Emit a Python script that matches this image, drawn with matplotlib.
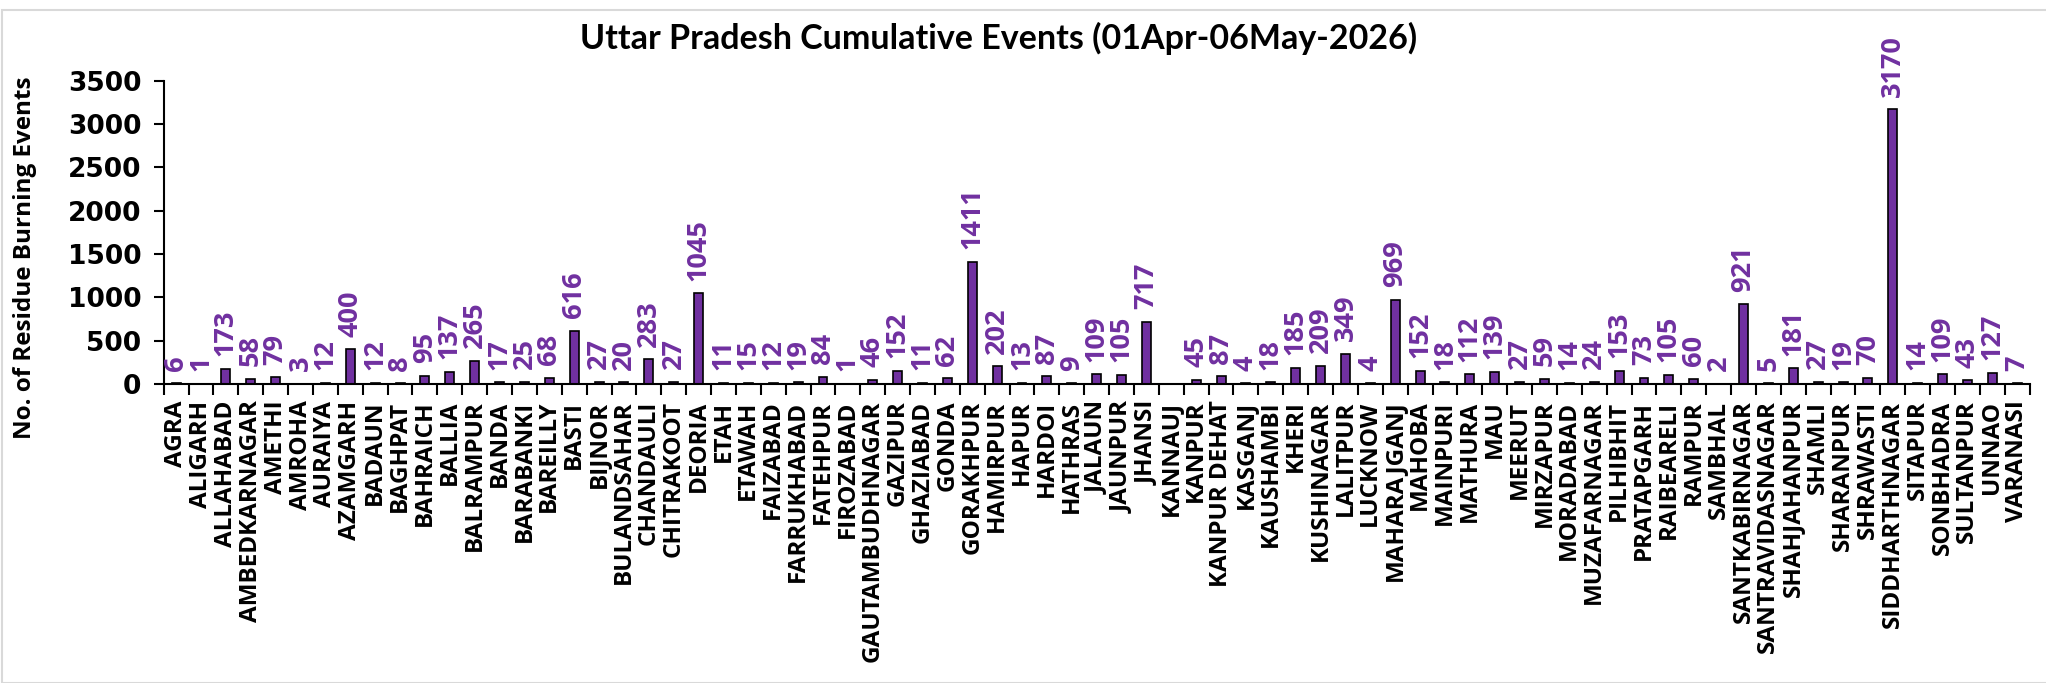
import numpy as np
import matplotlib
matplotlib.use('Agg')
import matplotlib.pyplot as plt
from matplotlib.patches import Rectangle

districts = ['AGRA', 'ALIGARH', 'ALLAHABAD', 'AMBEDKARNAGAR', 'AMETHI', 'AMROHA', 'AURAIYA',
             'AZAMGARH', 'BADAUN', 'BAGHPAT', 'BAHRAICH', 'BALLIA', 'BALRAMPUR', 'BANDA',
             'BARABANKI', 'BAREILLY', 'BASTI', 'BIJNOR', 'BULANDSAHAR', 'CHANDAULI',
             'CHITRAKOOT', 'DEORIA', 'ETAH', 'ETAWAH', 'FAIZABAD', 'FARRUKHABAD', 'FATEHPUR',
             'FIROZABAD', 'GAUTAMBUDHNAGAR', 'GAZIPUR', 'GHAZIABAD', 'GONDA', 'GORAKHPUR',
             'HAMIRPUR', 'HAPUR', 'HARDOI', 'HATHRAS', 'JALAUN', 'JAUNPUR', 'JHANSI', 'KANNAUJ',
             'KANPUR', 'KANPUR DEHAT', 'KASGANJ', 'KAUSHAMBI', 'KHERI', 'KUSHINAGAR', 'LALITPUR',
             'LUCKNOW', 'MAHARAJGANJ', 'MAHOBA', 'MAINPURI', 'MATHURA', 'MAU', 'MEERUT',
             'MIRZAPUR', 'MORADABAD', 'MUZAFARNAGAR', 'PILHIBHIT', 'PRATAPGARH', 'RAIBEARELI',
             'RAMPUR', 'SAMBHAL', 'SANTKABIRNAGAR', 'SANTRAVIDASNAGAR', 'SHAHJAHANPUR', 'SHAMLI',
             'SHARANPUR', 'SHRAWASTI', 'SIDDHARTHNAGAR', 'SITAPUR', 'SONBHADRA', 'SULTANPUR',
             'UNNAO', 'VARANASI']

# KANNAUJ has no value in the source
events = [6, 1, 173, 58, 79, 3, 12, 400, 12, 8, 95, 137, 265, 17, 25, 68, 616, 27, 20, 283,
          27, 1045, 11, 15, 12, 19, 84, 1, 46, 152, 11, 62, 1411, 202, 13, 87, 9, 109, 105, 717,
          None, 45, 87, 4, 18, 185, 209, 349, 4, 969, 152, 18, 112, 139, 27, 59, 14, 24, 153,
          73, 105, 60, 2, 921, 5, 181, 27, 19, 70, 3170, 14, 109, 43, 127, 7]

purple = '#7030A0'

fig = plt.figure(figsize=(20.46, 6.83), dpi=100)
fig.patches.append(Rectangle((0.001, 0.0), 1.2, 0.985, transform=fig.transFigure,
                             fill=False, edgecolor='#d9d9d9', linewidth=1.5))
ax = fig.add_axes([0.080, 0.438, 0.912, 0.4436])

x = np.arange(len(districts))
vals = np.array([np.nan if v is None else v for v in events], dtype=float)
ax.bar(x, np.nan_to_num(vals), width=0.36, color=purple, edgecolor='black', linewidth=1.2)

for xi, v in zip(x, events):
    if v is None:
        continue
    ax.annotate(str(v), (xi, v), xytext=(0, 9), textcoords='offset points',
                rotation=90, ha='center', va='bottom', color=purple,
                fontsize=19.5, fontweight='bold', family='Open Sans')

ax.set_xlim(-0.5, len(districts) - 0.5)
ax.set_ylim(0, 3500)
ax.set_yticks(np.arange(0, 3501, 500))
ax.set_xticks(x)
ax.set_xticklabels(districts, rotation=90, fontsize=17.5, fontweight='bold', family='Open Sans')
ax.set_xticks(np.arange(-0.5, len(districts), 1), minor=True)
ax.tick_params(axis='x', which='major', length=0, pad=12)
ax.tick_params(axis='x', which='minor', length=8, width=1.5, direction='out')
ax.tick_params(axis='y', length=7, width=1.5, direction='out', pad=9)
for lab in ax.get_yticklabels():
    lab.set_fontsize(19)
    lab.set_fontweight('bold')
    lab.set_family('DejaVu Sans')

for s in ['top', 'right']:
    ax.spines[s].set_visible(False)
for s in ['left', 'bottom']:
    ax.spines[s].set_linewidth(1.5)

fig.text(0.012, 0.622, 'No. of Residue Burning Events', rotation=90, ha='center', va='center',
         fontsize=17.5, fontweight='bold', family='Open Sans')
fig.text(0.488, 0.943, 'Uttar Pradesh Cumulative Events (01Apr-06May-2026)', ha='center',
         va='center', fontsize=24.5, fontweight='bold', family='Lato')

fig.savefig('out.png', dpi=100)
